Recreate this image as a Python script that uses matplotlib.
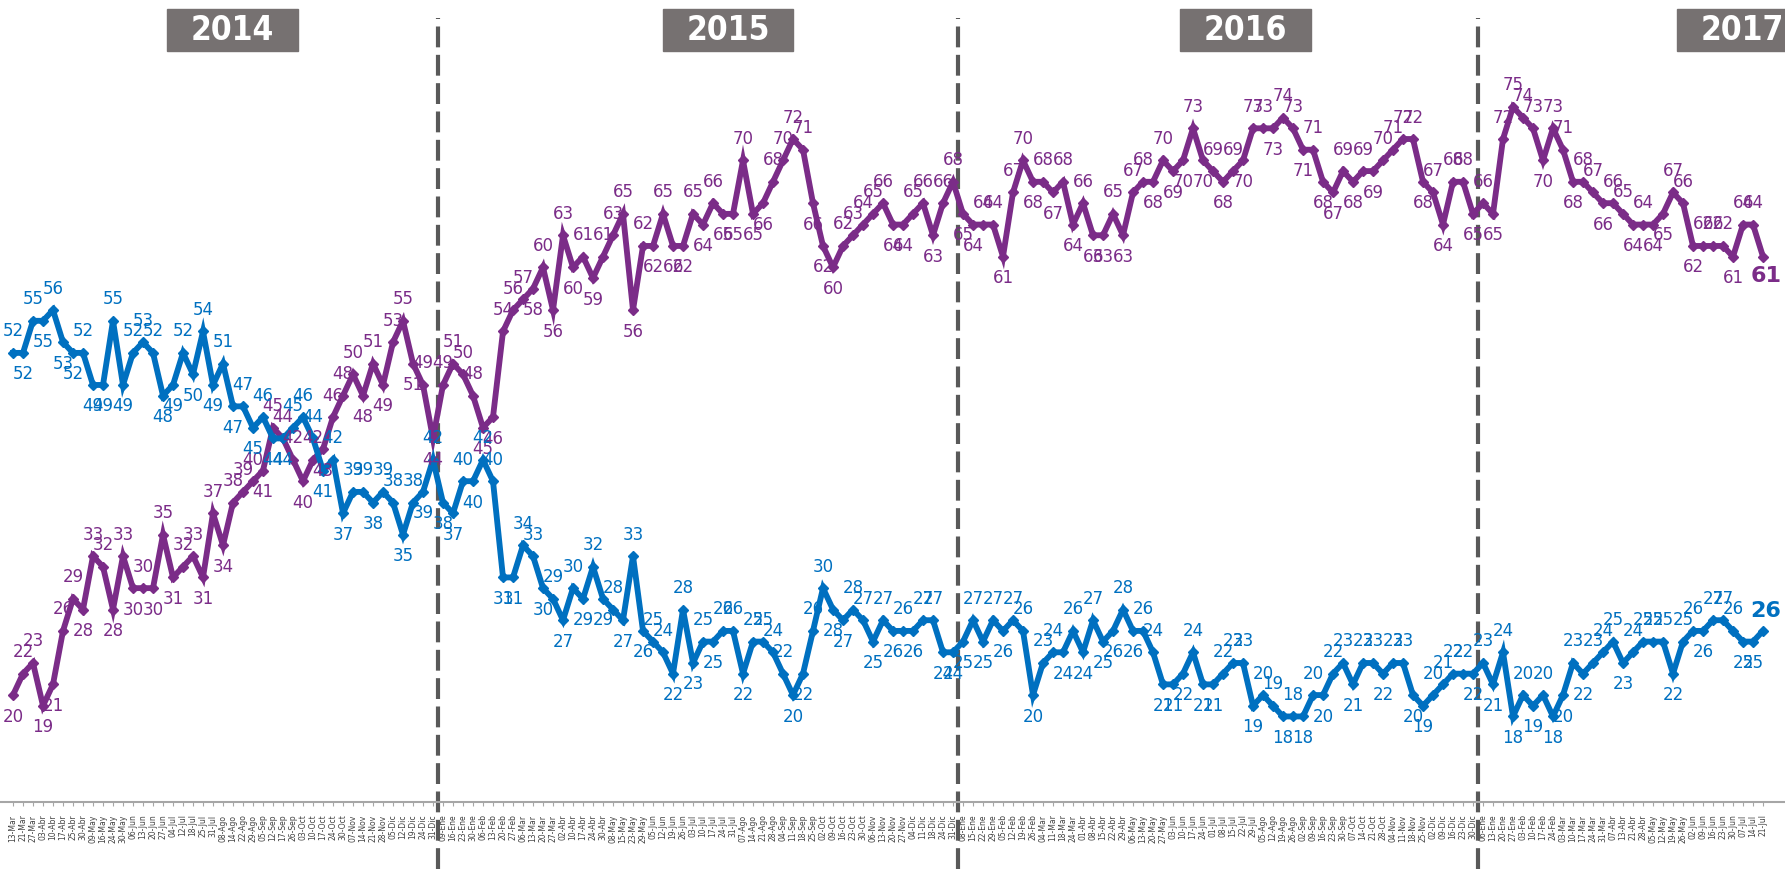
import matplotlib
matplotlib.use("Agg")
import matplotlib.pyplot as plt
from matplotlib.patches import Rectangle

# fechas (semanas) por año
dates_2014 = ["13-Mar", "21-Mar", "27-Mar", "03-Abr", "10-Abr", "17-Abr", "25-Abr", "30-Abr",
              "09-May", "16-May", "24-May", "30-May", "06-Jun", "13-Jun", "20-Jun", "27-Jun",
              "04-Jul", "12-Jul", "18-Jul", "25-Jul", "31-Jul", "08-Ago", "14-Ago", "22-Ago",
              "29-Ago", "05-Sep", "12-Sep", "17-Sep", "26-Sep", "03-Oct", "10-Oct", "17-Oct",
              "24-Oct", "30-Oct", "07-Nov", "14-Nov", "21-Nov", "28-Nov", "05-Dic", "12-Dic",
              "19-Dic", "24-Dic", "31-Dic"]
dates_2015 = ["09-Ene", "16-Ene", "23-Ene", "30-Ene", "06-Feb", "13-Feb", "20-Feb", "27-Feb",
              "06-Mar", "13-Mar", "20-Mar", "27-Mar", "02-Abr", "10-Abr", "17-Abr", "24-Abr",
              "30-Abr", "08-May", "15-May", "23-May", "29-May", "05-Jun", "12-Jun", "19-Jun",
              "26-Jun", "03-Jul", "10-Jul", "17-Jul", "24-Jul", "31-Jul", "07-Ago", "14-Ago",
              "21-Ago", "28-Ago", "04-Sep", "11-Sep", "18-Sep", "25-Sep", "02-Oct", "09-Oct",
              "16-Oct", "23-Oct", "30-Oct", "06-Nov", "13-Nov", "20-Nov", "27-Nov", "04-Dic",
              "11-Dic", "18-Dic", "24-Dic", "31-Dic"]
dates_2016 = ["08-Ene", "15-Ene", "22-Ene", "29-Ene", "05-Feb", "12-Feb", "19-Feb", "26-Feb",
              "04-Mar", "11-Mar", "18-Mar", "24-Mar", "01-Abr", "08-Abr", "15-Abr", "22-Abr",
              "29-Abr", "06-May", "13-May", "20-May", "27-May", "03-Jun", "10-Jun", "17-Jun",
              "24-Jun", "01-Jul", "08-Jul", "15-Jul", "22-Jul", "29-Jul", "05-Ago", "12-Ago",
              "19-Ago", "26-Ago", "02-Sep", "09-Sep", "16-Sep", "23-Sep", "30-Sep", "07-Oct",
              "14-Oct", "21-Oct", "28-Oct", "04-Nov", "11-Nov", "18-Nov", "25-Nov", "02-Dic",
              "09-Dic", "16-Dic", "23-Dic", "30-Dic"]
dates_2017 = ["06-Ene", "13-Ene", "20-Ene", "27-Ene", "03-Feb", "10-Feb", "17-Feb", "24-Feb",
              "03-Mar", "10-Mar", "17-Mar", "24-Mar", "31-Mar", "07-Abr", "13-Abr", "21-Abr",
              "28-Abr", "05-May", "12-May", "19-May", "26-May", "02-Jun", "09-Jun", "16-Jun",
              "23-Jun", "30-Jun", "07-Jul", "14-Jul", "21-Jul"]

# desaprobacion (morado)
desaprueba_2014 = [20, 22, 23, 19, 21, 26, 29, 28, 33, 32, 28, 33, 30, 30, 30, 35, 31, 32, 33, 31,
                   37, 34, 38, 39, 40, 41, 45, 44, 42, 40, 42, 43, 46, 48, 50, 48, 51, 49, 53, 55,
                   51, 49, 44]
desaprueba_2015 = [49, 51, 50, 48, 45, 46, 54, 56, 57, 58, 60, 56, 63, 60, 61, 59, 61, 63, 65, 56,
                   62, 62, 65, 62, 62, 65, 64, 66, 65, 65, 70, 65, 66, 68, 70, 72, 71, 66, 62, 60,
                   62, 63, 64, 65, 66, 64, 64, 65, 66, 63, 66, 68]
desaprueba_2016 = [65, 64, 64, 64, 61, 67, 70, 68, 68, 67, 68, 64, 66, 63, 63, 65, 63, 67, 68, 68,
                   70, 69, 70, 73, 70, 69, 68, 69, 70, 73, 73, 73, 74, 73, 71, 71, 68, 67, 69, 68,
                   69, 69, 70, 71, 72, 72, 68, 67, 64, 68, 68, 65]
desaprueba_2017 = [66, 65, 72, 75, 74, 73, 70, 73, 71, 68, 68, 67, 66, 66, 65, 64, 64, 64, 65, 67,
                   66, 62, 62, 62, 62, 61, 64, 64, 61]

# aprobacion (azul)
aprueba_2014 = [52, 52, 55, 55, 56, 53, 52, 52, 49, 49, 55, 49, 52, 53, 52, 48, 49, 52, 50, 54,
                49, 51, 47, 47, 45, 46, 44, 44, 45, 46, 44, 41, 42, 37, 39, 39, 38, 39, 38, 35,
                38, 39, 42]
aprueba_2015 = [38, 37, 40, 40, 42, 40, 31, 31, 34, 33, 30, 29, 27, 30, 29, 32, 29, 28, 27, 33,
                26, 25, 24, 22, 28, 23, 25, 25, 26, 26, 22, 25, 25, 24, 22, 20, 22, 26, 30, 28,
                27, 28, 27, 25, 27, 26, 26, 26, 27, 27, 24, 24]
aprueba_2016 = [25, 27, 25, 27, 26, 27, 26, 20, 23, 24, 24, 26, 24, 27, 25, 26, 28, 26, 26, 24,
                21, 21, 22, 24, 21, 21, 22, 23, 23, 19, 20, 19, 18, 18, 18, 20, 20, 22, 23, 21,
                23, 23, 22, 23, 23, 20, 19, 20, 21, 22, 22, 22]
aprueba_2017 = [23, 21, 24, 18, 20, 19, 20, 18, 20, 23, 22, 23, 24, 25, 23, 24, 25, 25, 25, 22,
                25, 26, 26, 27, 27, 26, 25, 25, 26]

years = ["2014", "2015", "2016", "2017"]

dates = dates_2014 + dates_2015 + dates_2016 + dates_2017
purple = desaprueba_2014 + desaprueba_2015 + desaprueba_2016 + desaprueba_2017
blue = aprueba_2014 + aprueba_2015 + aprueba_2016 + aprueba_2017
n = len(dates)
x = list(range(n))
year_sizes = [len(dates_2014), len(dates_2015), len(dates_2016), len(dates_2017)]

c_purple = "#7B2C88"
c_blue = "#0070C0"
c_gray = "#595959"

W, H = 1785, 869
fig = plt.figure(figsize=(W / 100, H / 100), dpi=100)
ax_bottom = 67 / H
ax = fig.add_axes([0, ax_bottom, 1, 1 - ax_bottom])
ax.set_xlim(-1.3, -1.3 + W / 10)
ax.set_ylim(10, 85)

for vals, col in [(purple, c_purple), (blue, c_blue)]:
    ax.plot(x, vals, color=col, lw=4.2, marker="D", ms=5, mec=col, mfc=col,
            solid_joinstyle="miter", zorder=3)
    for i, v in enumerate(vals):
        if i == n - 1:
            continue
        prev = vals[i - 1] if i > 0 else v
        nxt = vals[i + 1] if i < n - 1 else v
        above = v >= (prev + nxt) / 2
        ax.annotate(str(v), (i, v), xytext=(0, 9 if above else -9), textcoords="offset points",
                    ha="center", va="bottom" if above else "top", fontsize=12, color=col, zorder=4)

# ultimo valor destacado
ax.annotate(str(blue[-1]), (n - 1, blue[-1]), xytext=(2, 7), textcoords="offset points",
            ha="center", va="bottom", fontsize=16, fontweight="bold", color=c_blue)
ax.annotate(str(purple[-1]), (n - 1, purple[-1]), xytext=(2, -7), textcoords="offset points",
            ha="center", va="top", fontsize=16, fontweight="bold", color=c_purple)

# separadores de años
edges = [sum(year_sizes[:k]) - 0.5 for k in range(1, 4)]
for e in edges:
    ax.plot([e, e], [3.7, 83.3], color=c_gray, lw=3, ls=(0, (5, 1.8)), clip_on=False, zorder=2)

# cajas de años
boxes = [(167, 298), (663, 793), (1180, 1311), (1677, 1808)]
for (x0, x1), yr in zip(boxes, years):
    fig.patches.append(Rectangle((x0 / W, 1 - 51 / H), (x1 - x0) / W, 42 / H,
                                 transform=fig.transFigure, color="#767171", zorder=5))
    fig.text((x0 + x1) / 2 / W, 1 - 30 / H, yr, ha="center", va="center", color="white",
             fontsize=24, fontweight="bold", fontstretch="condensed", zorder=6)

ax.set_xticks(x)
ax.set_xticklabels(dates, rotation=90, fontsize=5.5, color="#404040")
ax.tick_params(axis="x", length=3, color="#A6A6A6", pad=6)
ax.set_yticks([])
for s in ["top", "left", "right"]:
    ax.spines[s].set_visible(False)
ax.spines["bottom"].set_color("#A6A6A6")
ax.spines["bottom"].set_linewidth(1.5)

fig.savefig("out.png", dpi=100)
